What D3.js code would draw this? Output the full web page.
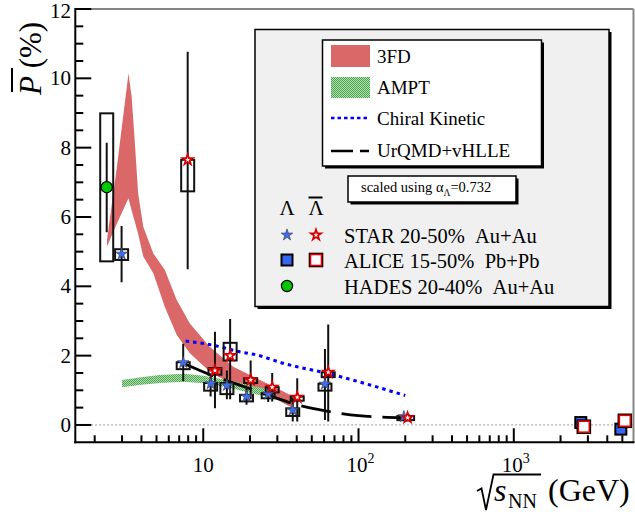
<!DOCTYPE html>
<html><head><meta charset="utf-8">
<script src="https://cdn.jsdelivr.net/npm/d3@7"></script>
<style>
body{margin:0;background:#fff}
svg{display:block}
text{font-family:"Liberation Serif","Times New Roman",serif;fill:#000}
</style>
</head><body>
<svg id="c" width="635" height="514"></svg>
<script>
// ---------- data ----------
// STAR Lambda (blue stars)
const lamS = [2.98, 7.43, 11.16, 14.2, 19.0, 26.2, 37.7, 60.8, 196];
const lamP = [4.93, 1.80, 1.19, 1.14, 0.82, 0.89, 0.43, 1.18, 0.24];
const lamStatLo = [4.12, 1.26, 0.82, 0.74, 0.58, 0.66, 0.10, 0.14, 0.18];
const lamStatHi = [5.74, 2.34, 1.45, 1.57, 1.06, 1.12, 0.78, 2.19, 0.30];
const lamSysLo = [4.76, 1.61, 0.99, 0.89, 0.68, 0.77, 0.26, 0.99, 0.14];
const lamSysHi = [5.07, 1.81, 1.21, 1.21, 0.87, 0.92, 0.48, 1.19, 0.26];
// STAR anti-Lambda (red open stars)
const alamS = [7.94, 11.9, 14.9, 20.2, 27.8, 40.3, 63.8, 207];
const alamP = [7.65, 1.57, 2.00, 1.30, 1.09, 0.80, 1.52, 0.21];
const alamStatLo = [4.49, 0.48, 0.74, 0.74, 0.68, 0.10, 0.10, 0.14];
const alamStatHi = [10.77, 2.69, 3.06, 1.86, 1.50, 1.35, 2.90, 0.30];
const alamSysLo = [6.74, 1.45, 1.86, 1.21, 0.94, 0.70, 1.38, 0.14];
const alamSysHi = [7.65, 1.64, 2.37, 1.35, 1.09, 0.82, 1.52, 0.26];
// HADES Lambda
const hadesS = [2.39];
const hadesP = [6.86];
const hadesStatLo = [5.56];
const hadesStatHi = [8.14];
const hadesSysLo = [4.72];
const hadesSysHi = [8.99];
// ALICE
const aliceLamS = [2700, 4890];
const aliceLamP = [0.07, -0.12];
const aliceAlamS = [2825, 5190];
const aliceAlamP = [-0.05, 0.12];
// 3FD band
const fdS  = [2.4, 2.77, 3.3, 3.46, 3.63, 3.81, 4.11, 4.77, 5.66, 6.74, 8.2, 11.0, 15.6, 23.2, 30, 38];
const fdHi = [5.35, 7.39, 10.14, 9.47, 8.12, 6.68, 5.72, 4.95, 4.47, 3.61, 2.93, 2.26, 1.68, 1.30, 1.05, 0.82];
const fdLo = [5.15, 5.79, 6.54, 6.19, 5.85, 5.51, 4.86, 4.38, 3.40, 2.60, 2.07, 1.54, 1.15, 0.93, 0.72, 0.48];
// AMPT band
const amptS  = [3.0, 4.0, 5.26, 7.52, 10, 14.2, 22.1, 27];
const amptHi = [1.30, 1.38, 1.44, 1.48, 1.42, 1.30, 1.10, 1.00];
const amptLo = [1.09, 1.16, 1.21, 1.25, 1.20, 1.09, 0.88, 0.80];
// Chiral Kinetic
const ckS = [7.7, 12.2, 17.2, 22.1, 32.7, 65.5, 200];
const ckP = [2.42, 2.28, 2.11, 2.02, 1.78, 1.47, 0.85];
// UrQMD+vHLLE
const uqS = [7.7, 11.5, 14.5, 19.6, 27, 39, 62.4, 100, 200];
const uqP = [1.75, 1.42, 1.26, 1.06, 0.84, 0.60, 0.40, 0.27, 0.21];
// axis ticks
const yTickLabels = [0, 2, 4, 6, 8, 10, 12];
const xTickLabels = [[10, "10", ""], [100, "10", "2"], [1000, "10", "3"]];

// ---------- setup ----------
const svg = d3.select("#c");
const x = d3.scaleLog().domain([1.5, 5900]).range([75.3, 633.5]);
const y = d3.scaleLinear().domain([-0.5, 12]).range([442.3, 9]);
const X0 = 75.3, X1 = 633.5, Y0 = 442.3, Y1 = 9;

const defs = svg.append("defs");
const pat = defs.append("pattern").attr("id", "ampt").attr("width", 2).attr("height", 2)
  .attr("patternUnits", "userSpaceOnUse");
pat.append("rect").attr("width", 2).attr("height", 2).attr("fill", "#b4dcb4");
pat.append("rect").attr("width", 1).attr("height", 1).attr("fill", "#49a849");
pat.append("rect").attr("x", 1).attr("y", 1).attr("width", 1).attr("height", 1).attr("fill", "#49a849");

const clip = defs.append("clipPath").attr("id", "plotclip");
clip.append("rect").attr("x", X0).attr("y", Y1).attr("width", X1 - X0).attr("height", Y0 - Y1);

// zero dotted line
svg.append("line").attr("x1", X0).attr("x2", X1).attr("y1", y(0)).attr("y2", y(0))
  .attr("stroke", "#999").attr("stroke-width", 1.2).attr("stroke-dasharray", "1.5,2.5");

const plot = svg.append("g").attr("clip-path", "url(#plotclip)");

// bands
const band = (S, Lo, Hi) => d3.area().x((d, i) => x(S[i])).y0((d, i) => y(Lo[i])).y1((d, i) => y(Hi[i]))(S);
plot.append("path").attr("d", band(fdS, fdLo, fdHi)).attr("fill", "#da6868");
plot.append("path").attr("d", band(amptS, amptLo, amptHi)).attr("fill", "url(#ampt)");

// model lines
const lineGen = (S, P) => d3.line().x((d, i) => x(S[i])).y((d, i) => y(P[i])).curve(d3.curveMonotoneX)(S);
plot.append("path").attr("d", lineGen(ckS, ckP)).attr("fill", "none").attr("stroke", "#0000ff")
  .attr("stroke-width", 3).attr("stroke-dasharray", "3.5,4");
plot.append("path").attr("d", lineGen(uqS, uqP)).attr("fill", "none").attr("stroke", "#000")
  .attr("stroke-width", 2.8).attr("stroke-dasharray", "30,11");

// sys boxes
const BW = 6.5;
function boxes(S, Lo, Hi) {
  plot.append("g").selectAll("rect").data(S).join("rect")
    .attr("x", d => x(d) - BW).attr("width", 2 * BW)
    .attr("y", (d, i) => y(Hi[i])).attr("height", (d, i) => y(Lo[i]) - y(Hi[i]))
    .attr("fill", "none").attr("stroke", "#111").attr("stroke-width", 2);
}
function bars(S, Lo, Hi) {
  plot.append("g").selectAll("line").data(S).join("line")
    .attr("x1", d => x(d)).attr("x2", d => x(d))
    .attr("y1", (d, i) => y(Hi[i])).attr("y2", (d, i) => y(Lo[i]))
    .attr("stroke", "#111").attr("stroke-width", 2);
}
boxes(hadesS, hadesSysLo, hadesSysHi);
boxes(lamS, lamSysLo, lamSysHi);
boxes(alamS, alamSysLo, alamSysHi);
bars(hadesS, hadesStatLo, hadesStatHi);
bars(lamS, lamStatLo, lamStatHi);
bars(alamS, alamStatLo, alamStatHi);

const starBlue = d3.symbol().type(d3.symbolStar).size(42)();
const starRed = d3.symbol().type(d3.symbolStar).size(34)();
function blueStar(g, cx, cy) {
  g.append("path").attr("d", starBlue).attr("transform", `translate(${cx},${cy})`)
    .attr("fill", "#3c6cf2").attr("stroke", "#445").attr("stroke-width", 0.7);
}
function redStar(g, cx, cy) {
  g.append("path").attr("d", starRed).attr("transform", `translate(${cx},${cy})`)
    .attr("fill", "#fff").attr("stroke", "#d40000").attr("stroke-width", 1.7).attr("stroke-linejoin", "miter");
}
function blueSq(g, cx, cy) {
  g.append("rect").attr("x", cx - 5.5).attr("y", cy - 5.5).attr("width", 11).attr("height", 11)
    .attr("fill", "#3366f5").attr("stroke", "#000").attr("stroke-width", 2);
}
function redSq(g, cx, cy) {
  g.append("rect").attr("x", cx - 5.5).attr("y", cy - 5.5).attr("width", 11).attr("height", 11)
    .attr("fill", "#fff").attr("stroke", "#000").attr("stroke-width", 3.6);
  g.append("rect").attr("x", cx - 5.5).attr("y", cy - 5.5).attr("width", 11).attr("height", 11)
    .attr("fill", "#fff").attr("stroke", "#e00000").attr("stroke-width", 1.6);
}
function greenDot(g, cx, cy) {
  g.append("circle").attr("cx", cx).attr("cy", cy).attr("r", 5.6)
    .attr("fill", "#00c800").attr("stroke", "#000").attr("stroke-width", 1.2);
}
const mk = plot.append("g");
hadesS.forEach((s, i) => greenDot(mk, x(s), y(hadesP[i])));
lamS.forEach((s, i) => blueStar(mk, x(s), y(lamP[i])));
alamS.forEach((s, i) => redStar(mk, x(s), y(alamP[i])));
aliceLamS.forEach((s, i) => blueSq(mk, x(s), y(aliceLamP[i])));
aliceAlamS.forEach((s, i) => redSq(mk, x(s), y(aliceAlamP[i])));

// ---------- frame & axes ----------
svg.append("line").attr("x1", X0).attr("x2", X1).attr("y1", Y1).attr("y2", Y1).attr("stroke", "#858585").attr("stroke-width", 2);
svg.append("line").attr("x1", X1).attr("x2", X1).attr("y1", Y1).attr("y2", Y0).attr("stroke", "#858585").attr("stroke-width", 2);
svg.append("line").attr("x1", X0).attr("x2", X0).attr("y1", Y1 - 1).attr("y2", Y0 + 1).attr("stroke", "#000").attr("stroke-width", 2);
svg.append("line").attr("x1", X0 - 1).attr("x2", X1 + 1).attr("y1", Y0).attr("y2", Y0).attr("stroke", "#000").attr("stroke-width", 2);

// y ticks
const yt = d3.range(0, 12.01, 0.5);
svg.append("g").selectAll("line").data(yt).join("line")
  .attr("x1", X0).attr("x2", d => X0 + (d % 2 === 0 ? 16 : 8))
  .attr("y1", d => y(d)).attr("y2", d => y(d)).attr("stroke", "#000").attr("stroke-width", 2);
svg.append("g").selectAll("text").data(yTickLabels).join("text")
  .attr("x", 71).attr("y", d => Math.max(y(d) + 7, 18)).attr("text-anchor", "end")
  .attr("font-size", 21).text(d => d);

// x ticks
const xt = [];
for (let e = 0; e <= 3; e++) for (let k = 1; k <= 9; k++) {
  const v = k * Math.pow(10, e);
  if (v >= 1.5 && v <= 5900) xt.push([v, k === 1]);
}
svg.append("g").selectAll("line").data(xt).join("line")
  .attr("x1", d => x(d[0])).attr("x2", d => x(d[0]))
  .attr("y1", Y0).attr("y2", d => Y0 - (d[1] ? 14 : 7)).attr("stroke", "#000").attr("stroke-width", 2);
xTickLabels.forEach(([v, base, sup]) => {
  const t = svg.append("text").attr("x", x(v) + (sup ? 2 : 0)).attr("y", 472).attr("text-anchor", "middle").attr("font-size", 21);
  t.append("tspan").text(base);
  if (sup) t.append("tspan").attr("font-size", 14).attr("dy", -9).text(sup);
});

// axis titles
const yt0 = svg.append("g").attr("transform", "translate(41,95) rotate(-90)");
const ytt = yt0.append("text").attr("x", 0).attr("y", 0).attr("font-size", 31);
ytt.append("tspan").attr("font-style", "italic").text("P");
ytt.append("tspan").text("\u00a0(%)");
yt0.append("line").attr("x1", 3).attr("x2", 27).attr("y1", -29).attr("y2", -29).attr("stroke", "#000").attr("stroke-width", 2);

svg.append("path").attr("d", "M477,491 L481.5,488.5 L486,510 L493.5,474.5 L541,474.5")
  .attr("fill", "none").attr("stroke", "#000").attr("stroke-width", 1.8).attr("stroke-linejoin", "miter");
svg.append("text").attr("x", 494).attr("y", 501).attr("font-size", 32).attr("font-style", "italic").text("s");
svg.append("text").attr("x", 508).attr("y", 508).attr("font-size", 20).text("NN");
svg.append("text").attr("x", 548).attr("y", 501).attr("font-size", 32).text("(GeV)");

// ---------- legend ----------
function pave(x0, y0, x1, y1, fill, sh) {
  svg.append("rect").attr("x", x0 + sh).attr("y", y0 + sh).attr("width", x1 - x0).attr("height", y1 - y0).attr("fill", "#000");
  svg.append("rect").attr("x", x0).attr("y", y0).attr("width", x1 - x0).attr("height", y1 - y0)
    .attr("fill", fill).attr("stroke", "#000").attr("stroke-width", 1.5);
}
pave(255, 29.5, 609, 306.5, "#f0f0f0", 2.5);
pave(322.5, 40, 541.5, 166, "#fff", 2.5);
pave(348, 176, 516, 202, "#fff", 2.5);

const modelNames = ["3FD", "AMPT", "Chiral Kinetic", "UrQMD+vHLLE"];
const modelBase = [63, 94, 125, 157];
svg.append("rect").attr("x", 331).attr("y", 45).attr("width", 39).attr("height", 22).attr("fill", "#da6868");
svg.append("rect").attr("x", 331).attr("y", 77).attr("width", 39).attr("height", 21).attr("fill", "url(#ampt)");
svg.append("line").attr("x1", 331).attr("x2", 370).attr("y1", 118).attr("y2", 118).attr("stroke", "#0000ff")
  .attr("stroke-width", 2.6).attr("stroke-dasharray", "3.5,3");
svg.append("line").attr("x1", 331).attr("x2", 369).attr("y1", 151).attr("y2", 151).attr("stroke", "#000")
  .attr("stroke-width", 2.6).attr("stroke-dasharray", "22,7");
svg.append("g").selectAll("text").data(modelNames).join("text")
  .attr("x", 377).attr("y", (d, i) => modelBase[i]).attr("font-size", 19).text(d => d);

const sc = svg.append("text").attr("x", 361).attr("y", 192).attr("font-size", 14.5);
sc.append("tspan").text("scaled using \u03b1");
sc.append("tspan").attr("font-size", 9.5).attr("dy", 4).text("\u039b");
sc.append("tspan").attr("dy", -4).text("=0.732");

svg.append("text").attr("x", 287).attr("y", 215).attr("text-anchor", "middle").attr("font-size", 21).text("\u039b");
svg.append("text").attr("x", 316).attr("y", 215).attr("text-anchor", "middle").attr("font-size", 21).text("\u039b");
svg.append("line").attr("x1", 308.5).attr("x2", 322.5).attr("y1", 197.5).attr("y2", 197.5).attr("stroke", "#000").attr("stroke-width", 2);

const dataNames = ["STAR 20-50%\u00a0\u00a0Au+Au", "ALICE 15-50%\u00a0\u00a0Pb+Pb", "HADES 20-40%\u00a0\u00a0Au+Au"];
const dataRowY = [235, 260, 286];
const lg = svg.append("g");
blueStar(lg, 287, dataRowY[0]);
redStar(lg, 316, dataRowY[0]);
blueSq(lg, 287, dataRowY[1]);
redSq(lg, 316, dataRowY[1]);
greenDot(lg, 287, dataRowY[2]);
svg.append("g").selectAll("text").data(dataNames).join("text")
  .attr("x", 344).attr("y", (d, i) => dataRowY[i] + 8).attr("font-size", 20.5).text(d => d);
</script>
</body></html>
